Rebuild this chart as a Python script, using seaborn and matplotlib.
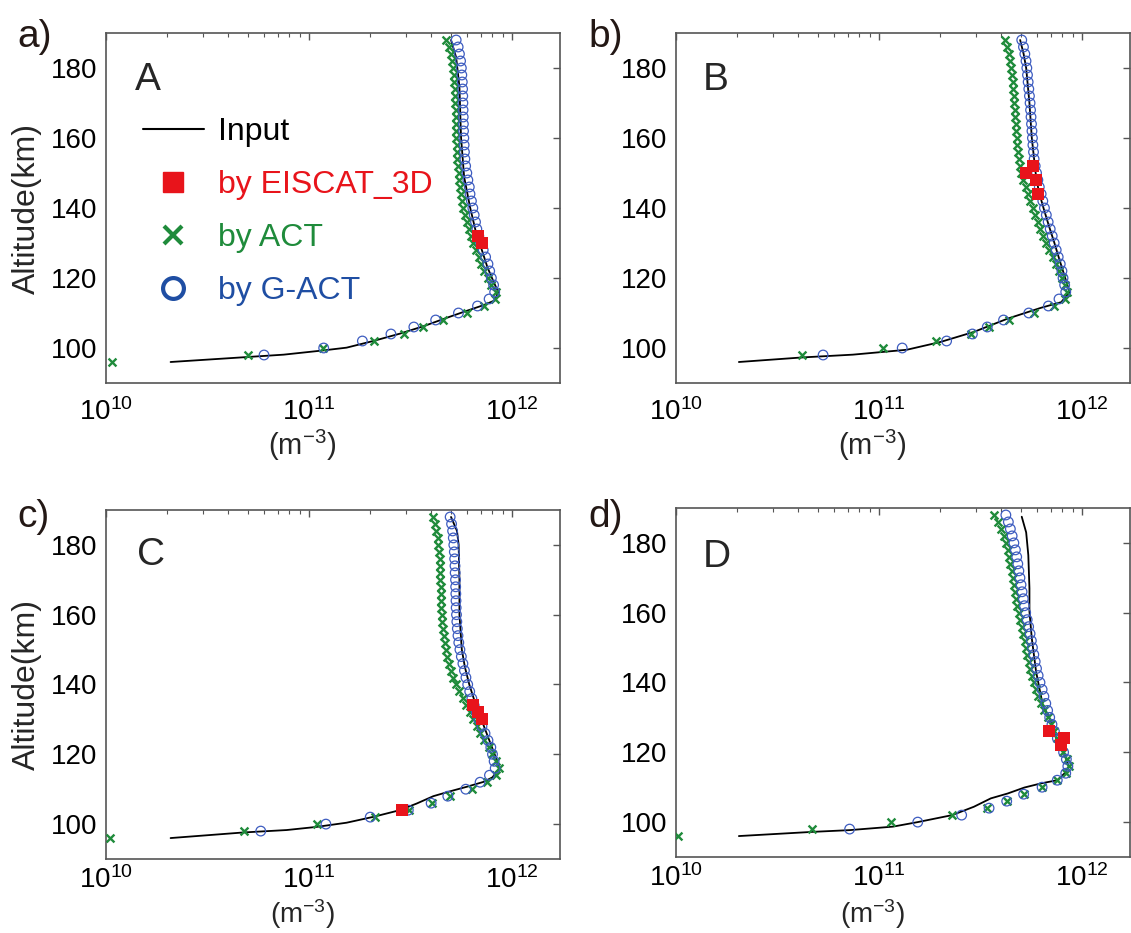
import numpy as np
import pandas as pd
import matplotlib
matplotlib.use("Agg")
import matplotlib.pyplot as plt
from matplotlib.lines import Line2D
from matplotlib.ticker import LogLocator, NullFormatter, FixedLocator
import seaborn as sns

# ---------------------------------------------------------------- data
# electron density in units of 1e11 m^-3
SCALE = 1e11

# altitude grid (km) of the reconstructed profiles
alt_grid = np.arange(96, 189, 2)

# --- panel A
a_input_alt = [96, 97.4, 98.1, 99.3, 100.1, 102, 104.1, 106.2, 108.6, 110.6, 112.2, 113.6,
               116, 119.3, 123.1, 127.9, 133.6, 140.3, 148.9, 160.3, 174.6, 183, 188]
a_input_val = [0.208, 0.49, 0.75, 1.17, 1.53, 2.07, 2.80, 3.65, 4.75, 5.96, 7.19, 8.22,
               8.53, 8.05, 7.55, 7.1, 6.6, 6.2, 5.8, 5.6, 5.5, 5.3, 5.0]
a_act = [0.107, 0.50, 1.17, 2.09, 2.93, 3.65, 4.57, 5.96, 7.24, 8.2,
         8.3, 7.9, 7.6, 7.3, 7.05, 6.85, 6.65, 6.45, 6.3, 6.1,
         6.0, 5.85, 5.75, 5.68, 5.6, 5.54, 5.5, 5.45, 5.4, 5.37,
         5.35, 5.33, 5.31, 5.3, 5.29, 5.28, 5.27, 5.25, 5.24, 5.22,
         5.2, 5.17, 5.12, 5.05, 4.97, 4.87, 4.73]
a_gact = [np.nan, 0.60, 1.18, 1.83, 2.53, 3.28, 4.20, 5.44, 6.75, 7.7,
          8.2, 8.1, 7.9, 7.75, 7.6, 7.4, 7.2, 7.0, 6.85, 6.7,
          6.6, 6.5, 6.4, 6.3, 6.2, 6.15, 6.05, 5.98, 5.9, 5.85,
          5.82, 5.8, 5.78, 5.76, 5.75, 5.74, 5.73, 5.72, 5.71, 5.7,
          5.68, 5.65, 5.62, 5.57, 5.5, 5.42, 5.3]
a_e3d_alt = [132, 130]
a_e3d_val = [6.8, 7.1]

# --- panel B
b_input_alt = [96, 97.3, 98.1, 99.5, 101.7, 104.6, 108.4, 111.5, 113.1, 116, 120, 125,
               130, 135, 140, 145, 150, 160, 170, 180, 184, 188]
b_input_val = [0.204, 0.417, 0.743, 1.37, 2.0, 2.93, 4.3, 6.28, 7.89, 8.67, 8.25, 7.75,
               7.3, 6.85, 6.45, 6.1, 5.9, 5.65, 5.5, 5.3, 5.15, 4.95]
b_act = [np.nan, 0.417, 1.04, 1.91, 2.85, 3.48, 4.38, 5.82, 7.26, 8.2,
         8.46, 8.2, 7.95, 7.68, 7.4, 7.15, 6.9, 6.65, 6.42, 6.22,
         6.05, 5.88, 5.7, 5.55, 5.4, 5.26, 5.12, 5.02, 4.95, 4.88,
         4.84, 4.8, 4.76, 4.73, 4.7, 4.68, 4.65, 4.62, 4.6, 4.57,
         4.54, 4.5, 4.46, 4.42, 4.36, 4.27, 4.16]
b_gact = [np.nan, 0.53, 1.30, 2.15, 2.88, 3.41, 4.10, 5.46, 6.82, 7.69,
          8.3, 8.2, 8.05, 7.95, 7.8, 7.62, 7.45, 7.28, 7.12, 6.96,
          6.8, 6.66, 6.52, 6.4, 6.28, 6.15, 6.05, 5.96, 5.87, 5.8,
          5.76, 5.72, 5.69, 5.66, 5.63, 5.6, 5.57, 5.54, 5.5, 5.46,
          5.42, 5.38, 5.34, 5.29, 5.22, 5.14, 5.04]
b_e3d_alt = [152, 150, 148, 144]
b_e3d_val = [5.75, 5.3, 5.95, 6.05]

# --- panel C
c_input_alt = [96, 97.6, 98.3, 99.2, 100.4, 102.1, 104, 105.9, 108, 109.4, 110.7, 112.1,
               113.4, 116, 120, 125, 130, 135, 140, 145, 150, 160, 170, 180, 184, 188]
c_input_val = [0.208, 0.474, 0.776, 1.09, 1.53, 2.08, 2.8, 3.39, 4.09, 4.95, 5.98, 7.23,
               8.0, 8.65, 8.2, 7.6, 7.05, 6.55, 6.15, 5.85, 5.65, 5.5, 5.5, 5.45, 5.35, 5.0]
c_act = [0.105, 0.478, 1.10, 2.10, 3.12, 4.02, 4.95, 6.33, 7.55, 8.34,
         8.57, 8.3, 8.0, 7.65, 7.3, 6.98, 6.7, 6.42, 6.18, 5.95,
         5.72, 5.5, 5.3, 5.14, 5.0, 4.9, 4.8, 4.72, 4.66, 4.6,
         4.56, 4.53, 4.5, 4.48, 4.46, 4.45, 4.44, 4.43, 4.42, 4.41,
         4.39, 4.36, 4.33, 4.29, 4.24, 4.17, 4.09]
c_gact = [np.nan, 0.578, 1.21, 2.0, 3.08, 3.99, 4.82, 5.91, 6.95, 7.73,
          8.25, 8.15, 8.0, 7.85, 7.6, 7.35, 7.1, 6.85, 6.66, 6.5,
          6.33, 6.18, 6.04, 5.92, 5.82, 5.72, 5.62, 5.53, 5.46, 5.41,
          5.37, 5.34, 5.32, 5.3, 5.29, 5.28, 5.27, 5.26, 5.24, 5.23,
          5.21, 5.19, 5.16, 5.13, 5.09, 5.03, 4.95]
c_e3d_alt = [134, 132, 130, 104]
c_e3d_val = [6.4, 6.75, 7.1, 2.86]

# --- panel D
d_input_alt = [96, 97.2, 97.7, 98.7, 100, 102, 104.4, 106.8, 108.2, 109.9, 111.1, 112,
               114, 116, 120, 124, 128.8, 133.5, 143.1, 152.6, 160.4, 167, 176.5, 183, 187.5]
d_input_val = [0.204, 0.47, 0.716, 1.17, 1.55, 2.29, 2.93, 3.55, 4.3, 5.19, 6.28, 7.54,
               8.2, 8.6, 8.1, 7.45, 7.05, 6.4, 5.93, 5.65, 5.5, 5.5, 5.43, 5.3, 5.04]
d_act = [0.102, 0.467, 1.15, 2.29, 3.41, 4.25, 5.15, 6.35, 7.54, 8.3,
         8.6, 8.4, 8.08, 7.8, 7.52, 7.27, 7.03, 6.75, 6.48, 6.25,
         6.08, 5.93, 5.79, 5.66, 5.56, 5.46, 5.37, 5.29, 5.21, 5.13,
         5.05, 4.96, 4.87, 4.79, 4.73, 4.67, 4.61, 4.55, 4.49, 4.42,
         4.36, 4.29, 4.21, 4.12, 4.0, 3.85, 3.68]
d_gact = [np.nan, 0.716, 1.55, 2.55, 3.48, 4.25, 5.15, 6.35, 7.54, 8.3,
          8.5, 8.36, 8.1, 7.85, 7.55, 7.3, 7.1, 6.92, 6.76, 6.62,
          6.48, 6.35, 6.2, 6.07, 5.96, 5.87, 5.78, 5.69, 5.62, 5.54,
          5.45, 5.36, 5.27, 5.2, 5.13, 5.06, 5.0, 4.94, 4.88, 4.82,
          4.76, 4.69, 4.61, 4.52, 4.43, 4.33, 4.21]
d_e3d_alt = [126, 124, 122]
d_e3d_val = [6.85, 8.15, 7.9]

panel_tags = ["a)", "b)", "c)", "d)"]
panel_names = ["A", "B", "C", "D"]
legend_labels = ["Input", "by EISCAT_3D", "by ACT", "by G-ACT"]
xtick_values = [1e10, 1e11, 1e12]
ytick_values = [100, 120, 140, 160, 180]

# ---------------------------------------------------------------- style
sns.set_theme(style="white")
plt.rcParams["font.family"] = ["Liberation Sans", "DejaVu Sans"]
plt.rcParams["mathtext.default"] = "regular"

RED = "#e8141b"
GREEN = "#1f8b3b"
BLUE = "#3d5cc0"
BLUE_TEXT = "#1f4ea3"
SPINE = "#555555"
TAG = "#231815"

fig = plt.figure(figsize=(11.31, 9.33), dpi=100)
W, H = 1131.0, 933.0

def px_axes(left, top, width, height):
    return fig.add_axes([left / W, 1 - (top + height) / H, width / W, height / H])

axes = [px_axes(106, 33, 454, 350), px_axes(676, 33, 454, 350),
        px_axes(106, 510, 454, 349), px_axes(676, 508, 454, 349)]

panels = [
    (a_input_alt, a_input_val, a_act, a_gact, a_e3d_alt, a_e3d_val),
    (b_input_alt, b_input_val, b_act, b_gact, b_e3d_alt, b_e3d_val),
    (c_input_alt, c_input_val, c_act, c_gact, c_e3d_alt, c_e3d_val),
    (d_input_alt, d_input_val, d_act, d_gact, d_e3d_alt, d_e3d_val),
]

letter_pos = [(0.064, 0.837), (0.059, 0.837), (0.068, 0.842), (0.059, 0.831)]
unit_label_y = [-0.128, -0.128, -0.11, -0.116]
unit_label_size = [21, 21, 20, 20]
xtick_pad = [11, 11, 5, 5]

for i, (ax, (in_alt, in_val, act, gact, e_alt, e_val)) in enumerate(zip(axes, panels)):
    prof = pd.DataFrame({"density": np.array(in_val) * SCALE, "alt": in_alt})
    est = pd.DataFrame({"alt": alt_grid,
                        "act": np.array(act) * SCALE,
                        "gact": np.array(gact) * SCALE})
    e3d = pd.DataFrame({"alt": e_alt, "density": np.array(e_val) * SCALE})

    sns.lineplot(data=prof, x="density", y="alt", sort=False, estimator=None,
                 color="black", linewidth=1.3, ax=ax, zorder=2)
    sns.scatterplot(data=est, x="act", y="alt", marker="x", s=32, color=GREEN,
                    linewidth=1.7, ax=ax, zorder=3)
    sns.scatterplot(data=est, x="gact", y="alt", marker="o", s=48, facecolor="none",
                    edgecolor=BLUE, linewidth=0.9, ax=ax, zorder=4)
    sns.scatterplot(data=e3d, x="density", y="alt", marker="s", s=85, color=RED,
                    edgecolor=RED, linewidth=0, ax=ax, zorder=5)

    ax.set_xscale("log")
    ax.set_xlim(1e10, 1.72e12)
    ax.set_ylim(90, 190)
    ax.xaxis.set_major_locator(FixedLocator(xtick_values))
    ax.xaxis.set_minor_locator(LogLocator(base=10, subs=np.arange(2, 10)))
    ax.xaxis.set_minor_formatter(NullFormatter())
    ax.set_xticks(xtick_values)
    ax.set_xticklabels([r"$10^{%d}$" % int(np.log10(v)) for v in xtick_values])
    ax.set_yticks(ytick_values)
    ax.set_yticklabels([str(v) for v in ytick_values])

    ax.tick_params(which="both", direction="in", top=True, right=True,
                   color=SPINE, labelcolor="black")
    ax.tick_params(which="major", length=5, width=1.0)
    ax.tick_params(which="minor", length=3, width=0.8)
    ax.tick_params(axis="x", labelsize=20, pad=xtick_pad[i])
    ax.tick_params(axis="y", labelsize=20, pad=6)
    for sp in ax.spines.values():
        sp.set_color(SPINE)
        sp.set_linewidth(1.2)

    ax.set_xlabel("")
    ax.set_ylabel("")
    ax.text(0.432, unit_label_y[i], r"(m$^{-3}$)", transform=ax.transAxes,
            ha="center", va="top", fontsize=unit_label_size[i])
    if i % 2 == 0:
        ax.set_ylabel("Altitude(km)", fontsize=23)
        ax.yaxis.set_label_coords(-0.141, 0.5)

    lx, ly = letter_pos[i]
    ax.text(lx, ly, panel_names[i], transform=ax.transAxes, fontsize=28,
            ha="left", va="baseline")

# legend in the first panel
handles = [
    Line2D([], [], color="black", linewidth=1.5),
    Line2D([], [], marker="s", linestyle="none", markersize=14, color=RED, markeredgecolor=RED),
    Line2D([], [], marker="x", linestyle="none", markersize=13, markeredgewidth=3, color=GREEN),
    Line2D([], [], marker="o", linestyle="none", markersize=15, markerfacecolor="none",
           markeredgecolor=BLUE_TEXT, markeredgewidth=3),
]
leg = axes[0].legend(handles, legend_labels, loc="upper left", bbox_to_anchor=(0.0815, 0.76),
                     frameon=False, fontsize=23, handlelength=1.9, handletextpad=0.45,
                     labelspacing=0.72, borderpad=0, borderaxespad=0)
for t, c in zip(leg.get_texts(), ["black", RED, GREEN, BLUE_TEXT]):
    t.set_color(c)

# panel tags
for tag, (tx, ty) in zip(panel_tags, [(17, 37), (588, 37), (17, 517), (588, 517)]):
    fig.text(tx / W, 1 - ty / H, tag, fontsize=28, color=TAG, ha="left", va="center")

fig.savefig("out.png", dpi=100)
